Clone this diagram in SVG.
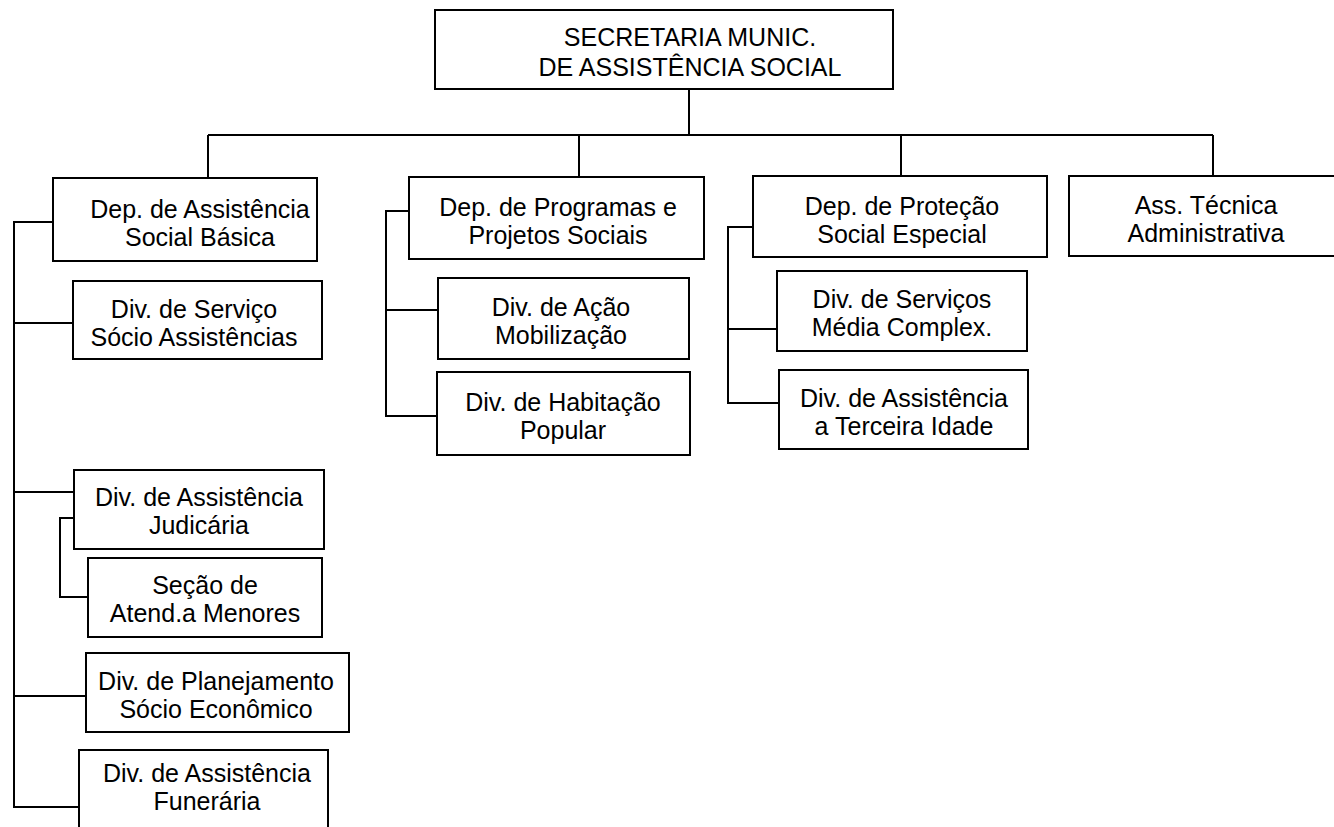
<svg xmlns="http://www.w3.org/2000/svg" width="1334" height="827" viewBox="0 0 1334 827">
<style>
.box{fill:#fff;stroke:#000;stroke-width:2}
.ln{fill:none;stroke:#000;stroke-width:2}
text{font-family:"Liberation Sans",Arial,sans-serif;font-size:25px;fill:#000;text-anchor:middle}
</style>
<rect width="1334" height="827" fill="#fff"/>
<g id="connectors">
<path class="ln" d="M689 89V135M208 135H1213M208 135V177M579 135V177M901 135V176M1213 135V176"/>
<path class="ln" d="M53 222H14V807H79M14 323H73M14 492H74M14 696H86"/>
<path class="ln" d="M74 518H60V597H88"/>
<path class="ln" d="M409 211H386V416H437M386 310H438"/>
<path class="ln" d="M753 227H728V403H779M728 329H777"/>
</g>
<g id="n-top"><rect class="box" x="435" y="10" width="458" height="79"/><text x="690" y="46">SECRETARIA MUNIC.</text><text x="690" y="76">DE ASSISTÊNCIA SOCIAL</text></g>
<g id="n-dep1"><rect class="box" x="53" y="178" width="264" height="83"/><text x="200" y="218">Dep. de Assistência</text><text x="200" y="246">Social Básica</text></g>
<g id="n-dep2"><rect class="box" x="409" y="177" width="295" height="82"/><text x="558" y="216">Dep. de Programas e</text><text x="558" y="244">Projetos Sociais</text></g>
<g id="n-dep3"><rect class="box" x="753" y="176" width="294" height="81"/><text x="902" y="215">Dep. de Proteção</text><text x="902" y="243">Social Especial</text></g>
<g id="n-ass"><rect class="box" x="1069" y="176" width="267" height="80"/><text x="1206" y="214">Ass. Técnica</text><text x="1206" y="242">Administrativa</text></g>
<g id="n-serv"><rect class="box" x="73" y="281" width="249" height="78"/><text x="194" y="318">Div. de Serviço</text><text x="194" y="346">Sócio Assistências</text></g>
<g id="n-jud"><rect class="box" x="74" y="470" width="250" height="79"/><text x="199" y="506">Div. de Assistência</text><text x="199" y="534">Judicária</text></g>
<g id="n-sec"><rect class="box" x="88" y="558" width="234" height="79"/><text x="205" y="594">Seção de</text><text x="205" y="622">Atend.a Menores</text></g>
<g id="n-plan"><rect class="box" x="86" y="653" width="263" height="79"/><text x="216" y="690">Div. de Planejamento</text><text x="216" y="718">Sócio Econômico</text></g>
<g id="n-fun"><rect class="box" x="79" y="750" width="249" height="90"/><text x="207" y="782">Div. de Assistência</text><text x="207" y="810">Funerária</text></g>
<g id="n-acao"><rect class="box" x="438" y="278" width="251" height="81"/><text x="561" y="316">Div. de Ação</text><text x="561" y="344">Mobilização</text></g>
<g id="n-hab"><rect class="box" x="437" y="372" width="253" height="83"/><text x="563" y="411">Div. de Habitação</text><text x="563" y="439">Popular</text></g>
<g id="n-media"><rect class="box" x="777" y="271" width="250" height="80"/><text x="902" y="308">Div. de Serviços</text><text x="902" y="336">Média Complex.</text></g>
<g id="n-terc"><rect class="box" x="779" y="370" width="249" height="79"/><text x="904" y="407">Div. de Assistência</text><text x="904" y="435">a Terceira Idade</text></g>
</svg>
